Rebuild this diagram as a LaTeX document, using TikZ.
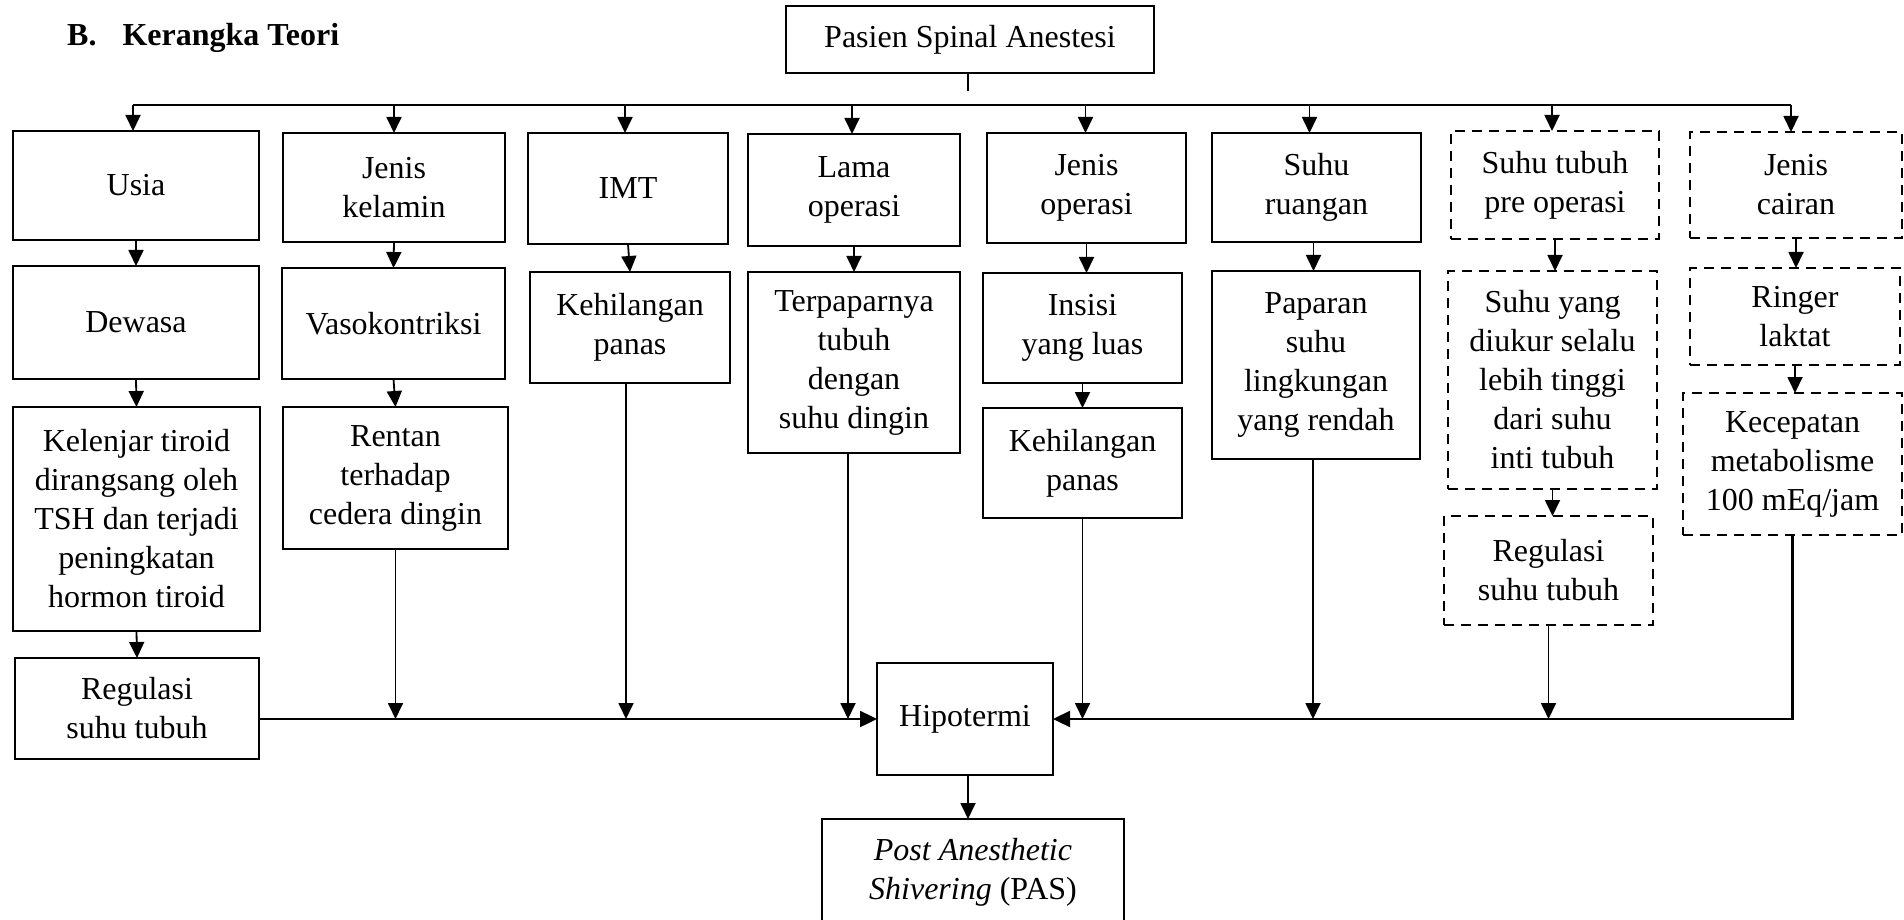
\documentclass[tikz,border=0pt]{standalone}
\usepackage{fontspec}
\setmainfont{Liberation Serif}
\usetikzlibrary{arrows.meta,calc}
\newcommand\mybox[7]{%
  \pgfmathsetmacro\bcx{(#3+#5)/2}\pgfmathsetmacro\bcy{(#4+#6)/2}%
  \pgfmathsetmacro\bww{#5-#3}\pgfmathsetmacro\bhh{#6-#4}%
  \node[#2, minimum width=\bww pt, minimum height=\bhh pt] (#1) at (\bcx,\bcy) {#7};}
\tikzset{
  solidbox/.style={draw, line width=2.4pt, inner sep=0pt, outer sep=0pt, align=center,
    font=\fontsize{32pt}{39pt}\selectfont},
  dashbox/.style={solidbox, dash pattern=on 10pt off 7pt},
  arr/.style={line width=1.8pt, -{Triangle[width=15pt,length=16pt]}},
  busline/.style={line width=2.4pt},
  busarr/.style={line width=2.4pt, -{Triangle[width=16pt,length=17pt]}},
  conn/.style={line width=1.8pt}
}
\begin{document}
\begin{tikzpicture}[x=1pt,y=-1pt]
\useasboundingbox (0,0) rectangle (1904,920);
\node[anchor=base west, inner sep=0pt, font=\bfseries\fontsize{32pt}{39pt}\selectfont] (title) at (67,46) {B.\hspace{26pt}Kerangka Teori};

\mybox{pasien}{solidbox}{786}{6}{1154}{73}{Pasien Spinal Anestesi}
\mybox{usia}{solidbox}{13}{131}{259}{240}{Usia}
\mybox{dewasa}{solidbox}{13}{266}{259}{379}{Dewasa}
\mybox{kelenjar}{solidbox}{13}{407}{260}{631}{Kelenjar tiroid\\dirangsang oleh\\TSH dan terjadi\\peningkatan\\hormon tiroid}
\mybox{regA}{solidbox}{15}{658}{259}{759}{Regulasi\\suhu tubuh}
\mybox{kel}{solidbox}{283}{133}{505}{242}{Jenis\\kelamin}
\mybox{vaso}{solidbox}{282}{268}{505}{379}{Vasokontriksi}
\mybox{rentan}{solidbox}{283}{407}{508}{549}{Rentan\\terhadap\\cedera dingin}
\mybox{imt}{solidbox}{528}{133}{728}{244}{IMT}
\mybox{hilA}{solidbox}{530}{272}{730}{383}{Kehilangan\\panas}
\mybox{lama}{solidbox}{748}{134}{960}{246}{Lama\\operasi}
\mybox{terpa}{solidbox}{748}{272}{960}{453}{Terpaparnya\\tubuh\\dengan\\suhu dingin}
\mybox{jop}{solidbox}{987}{133}{1186}{243}{Jenis\\operasi}
\mybox{insisi}{solidbox}{983}{273}{1182}{383}{Insisi\\yang luas}
\mybox{hilB}{solidbox}{983}{408}{1182}{518}{Kehilangan\\panas}
\mybox{ruang}{solidbox}{1212}{133}{1421}{242}{Suhu\\ruangan}
\mybox{papar}{solidbox}{1212}{271}{1420}{459}{Paparan\\suhu\\lingkungan\\yang rendah}
\mybox{pre}{dashbox}{1451}{131}{1659}{239}{Suhu tubuh\\pre operasi}
\mybox{ukur}{dashbox}{1448}{271}{1657}{489}{Suhu yang\\diukur selalu\\lebih tinggi\\dari suhu\\inti tubuh}
\mybox{regB}{dashbox}{1444}{516}{1653}{625}{Regulasi\\suhu tubuh}
\mybox{cairan}{dashbox}{1690}{132}{1902}{238}{Jenis\\cairan}
\mybox{ringer}{dashbox}{1690}{268}{1900}{365}{Ringer\\laktat}
\mybox{kec}{dashbox}{1683}{393}{1902}{535}{Kecepatan\\metabolisme\\100 mEq/jam}
\mybox{hipo}{solidbox}{877}{663}{1053}{775}{Hipotermi}
\mybox{pas}{solidbox}{822}{819}{1124}{925}{\textit{Post Anesthetic}\\\textit{Shivering} (PAS)}

% top stub and bus
\coordinate (pend) at (968,91);
\draw[conn] ([xshift=-2pt]pasien.south) -- (pend);
\path (usia.north) ++(-3,-26) coordinate (busL);
\path (cairan.north) ++(-5,-27) coordinate (busR);
\draw[busline] (busL) -- (busR);
\draw[arr] (busL) -- (busL |- usia.north);
\draw[arr] (kel.north |- busL) -- (kel.north);
\draw[arr] ($(imt.north |- busL)+(-3,0)$) -- ($(imt.north)+(-3,0)$);
\draw[arr] ($(lama.north |- busL)+(-2,0)$) -- ($(lama.north)+(-2,0)$);
\draw[arr] ($(jop.north |- busL)+(-1,0)$) -- ($(jop.north)+(-1,0)$);
\draw[arr] ($(ruang.north |- busL)+(-7,0)$) -- ($(ruang.north)+(-7,0)$);
\draw[arr] ($(pre.north |- busL)+(-3,0)$) -- ($(pre.north)+(-3,0)$);
\draw[arr] (busR) -- (busR |- cairan.north);

% column arrows
\draw[arr] (usia.south) -- (dewasa.north);
\draw[arr] (dewasa.south) -- (kelenjar.north);
\draw[arr] (kelenjar.south) -- (regA.north);
\draw[arr] (kel.south) -- (vaso.north);
\draw[arr] (vaso.south) -- (rentan.north);
\draw[arr] (imt.south) -- (hilA.north);
\draw[arr] (lama.south) -- (terpa.north);
\draw[arr] (jop.south) -- (jop.south |- insisi.north);
\draw[arr] (insisi.south) -- (hilB.north);
\draw[arr] ($(ruang.south)+(-3,0)$) -- ($(ruang.south |- papar.north)+(-3,0)$);
\draw[arr] (pre.south) -- (pre.south |- ukur.north);
\draw[arr] (ukur.south) -- (ukur.south |- regB.north);
\draw[arr] (cairan.south) -- (cairan.south |- ringer.north);
\draw[arr] (ringer.south) -- (ringer.south |- kec.north);

% bottom buses
\draw[busarr] (regA.east |- hipo.west) -- (hipo.west);
\draw[busarr] (kec.south) |- (hipo.east);
\draw[arr] (rentan.south) -- (rentan.south |- hipo.west);
\draw[arr] ($(hilA.south)+(-4,0)$) -- ($(hilA.south |- hipo.west)+(-4,0)$);
\draw[arr] ($(terpa.south)+(-6,0)$) -- ($(terpa.south |- hipo.west)+(-6,0)$);
\draw[arr] (hilB.south) -- (hilB.south |- hipo.east);
\draw[arr] ($(papar.south)+(-3,0)$) -- ($(papar.south |- hipo.east)+(-3,0)$);
\draw[arr] (regB.south) -- (regB.south |- hipo.east);
\draw[arr] ($(hipo.south)+(3,0)$) -- ($(hipo.south |- pas.north)+(3,0)$);
\end{tikzpicture}
\end{document}
